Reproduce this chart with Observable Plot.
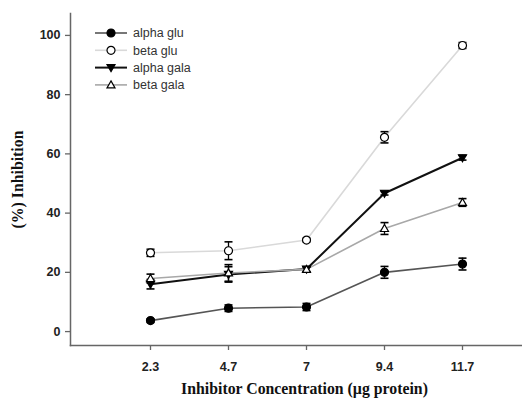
<!DOCTYPE html>
<html>
<head>
<meta charset="utf-8">
<script src="https://cdn.jsdelivr.net/npm/d3@7"></script>
<script src="https://cdn.jsdelivr.net/npm/@observablehq/plot@0.6"></script>
<style>
  html, body { margin: 0; padding: 0; background: #fff; }
  #chart { position: relative; width: 522px; height: 403px; }
</style>
</head>
<body>
<div id="chart"></div>
<script>
// ---- data ----
const xLabels = ["2.3", "4.7", "7", "9.4", "11.7"];
const yTicks = [0, 20, 40, 60, 80, 100];
const seriesNames = ["alpha glu", "beta glu", "alpha gala", "beta gala"];
const alphaGlu = [3.7, 7.9, 8.3, 20.0, 22.8];
const alphaGluErr = [0.6, 1.1, 1.2, 2.0, 2.0];
const betaGlu = [26.6, 27.3, 30.9, 65.6, 96.6];
const betaGluErr = [1.2, 3.0, 0.6, 1.9, 1.0];
const alphaGala = [16.0, 19.3, 21.1, 46.7, 58.7];
const alphaGalaErr = [1.6, 2.6, 0.8, 0.6, 0.8];
const betaGala = [17.9, 19.8, 21.0, 34.8, 43.6];
const betaGalaErr = [1.5, 2.8, 0.8, 2.0, 1.3];

// ---- styles ----
const lineColors = ["#555555", "#d9d9d9", "#111111", "#a8a8a8"];
const lineWidths = [1.6, 1.6, 2, 1.6];
const markerFills = ["#000", "#fff", "#000", "#fff"];

// custom symbols
const symCircle = {draw(c, size) { const r = Math.sqrt(size / Math.PI); c.moveTo(r, 0); c.arc(0, 0, r, 0, 2 * Math.PI); c.closePath(); }};
const symUp = {draw(c, size) { const r = Math.sqrt(size / Math.PI); c.moveTo(0, -r * 1.0); c.lineTo(r, r * 0.75); c.lineTo(-r, r * 0.75); c.closePath(); }};
const symDown = {draw(c, size) { const r = Math.sqrt(size / Math.PI); c.moveTo(0, r * 1.0); c.lineTo(r, -r * 0.75); c.lineTo(-r, -r * 0.75); c.closePath(); }};
const symCap = {draw(c, size) { const r = Math.sqrt(size / Math.PI); c.moveTo(-r, 0); c.lineTo(r, 0); }};
const symbols = [symCircle, symCircle, symDown, symUp];

const values = [alphaGlu, betaGlu, alphaGala, betaGala];
const errs = [alphaGluErr, betaGluErr, alphaGalaErr, betaGalaErr];
const series = seriesNames.map((name, i) => xLabels.map((x, j) => ({
  series: name, x, y: values[i][j], lo: values[i][j] - errs[i][j], hi: values[i][j] + errs[i][j]
})));

const marks = [];
// axis lines
marks.push(Plot.frame({anchor: "left", stroke: "#666", strokeWidth: 1.5}));
marks.push(Plot.frame({anchor: "bottom", stroke: "#666", strokeWidth: 1.5}));
marks.push(Plot.axisY({ticks: yTicks, tickSize: 5, tickPadding: 5, stroke: "#666", strokeWidth: 1.3,
  fontFamily: "Liberation Sans, Arial, sans-serif", fontWeight: "bold", fontSize: 12.5, fill: "#222", label: null}));
marks.push(Plot.axisX({tickSize: 5, tickPadding: 12, stroke: "#666", strokeWidth: 1.3,
  fontFamily: "Liberation Sans, Arial, sans-serif", fontWeight: "bold", fontSize: 12.5, fill: "#222", label: null}));
// axis titles
marks.push(Plot.text(["Inhibitor Concentration (\u00b5g protein)"], {frameAnchor: "bottom", dy: 48, dx: 8,
  textAnchor: "middle", fontFamily: "Liberation Serif, Times New Roman, serif", fontWeight: "bold", fontSize: 15.8, fill: "#111"}));
marks.push(Plot.text(["(%) Inhibition"], {frameAnchor: "left", dx: -53, rotate: -90, textAnchor: "middle", lineAnchor: "middle",
  fontFamily: "Liberation Serif, Times New Roman, serif", fontWeight: "bold", fontSize: 15.8, fill: "#111"}));

series.forEach((data, i) => {
  marks.push(Plot.line(data, {x: "x", y: "y", stroke: lineColors[i], strokeWidth: lineWidths[i]}));
});
series.forEach((data, i) => {
  marks.push(Plot.ruleX(data, {x: "x", y1: "lo", y2: "hi", stroke: "#000", strokeWidth: 1.3}));
  marks.push(Plot.dot(data, {x: "x", y: "lo", symbol: symCap, r: 4, stroke: "#000", strokeWidth: 1.6, fill: "none"}));
  marks.push(Plot.dot(data, {x: "x", y: "hi", symbol: symCap, r: 4, stroke: "#000", strokeWidth: 1.6, fill: "none"}));
  marks.push(Plot.dot(data, {x: "x", y: "y", symbol: symbols[i], r: 4, stroke: "#000", strokeWidth: 1.2, fill: markerFills[i]}));
});

const chart = Plot.plot({
  width: 522,
  height: 403,
  marginLeft: 70,
  marginRight: 0,
  marginTop: 13,
  marginBottom: 58,
  style: {background: "#fff"},
  x: {type: "point", domain: xLabels, padding: 0, insetLeft: 79, insetRight: 60},
  y: {type: "linear", domain: [-4.7, 107.4]},
  marks
});

// legend drawn into the same svg
const svg = d3.select(chart);
const lg = svg.append("g").attr("class", "legend").attr("text-anchor", "start");
seriesNames.forEach((name, i) => {
  const cy = 33 + i * 17.3;
  const g = lg.append("g").attr("transform", `translate(0,${cy})`);
  g.append("line").attr("x1", 95).attr("x2", 127).attr("y1", 0).attr("y2", 0)
    .attr("stroke", lineColors[i]).attr("stroke-width", lineWidths[i]);
  g.append("path").attr("transform", "translate(111,0)")
    .attr("d", d3.symbol().type(symbols[i]).size(Math.PI * 16)())
    .attr("fill", markerFills[i]).attr("stroke", "#000").attr("stroke-width", 1.2);
  g.append("text").attr("x", 133).attr("y", 0).attr("dy", "0.35em").attr("text-anchor", "start")
    .attr("font-family", "Liberation Sans, Arial, sans-serif").attr("font-size", 12.5).attr("fill", "#333")
    .text(name);
});

document.getElementById("chart").appendChild(chart);
</script>
</body>
</html>
